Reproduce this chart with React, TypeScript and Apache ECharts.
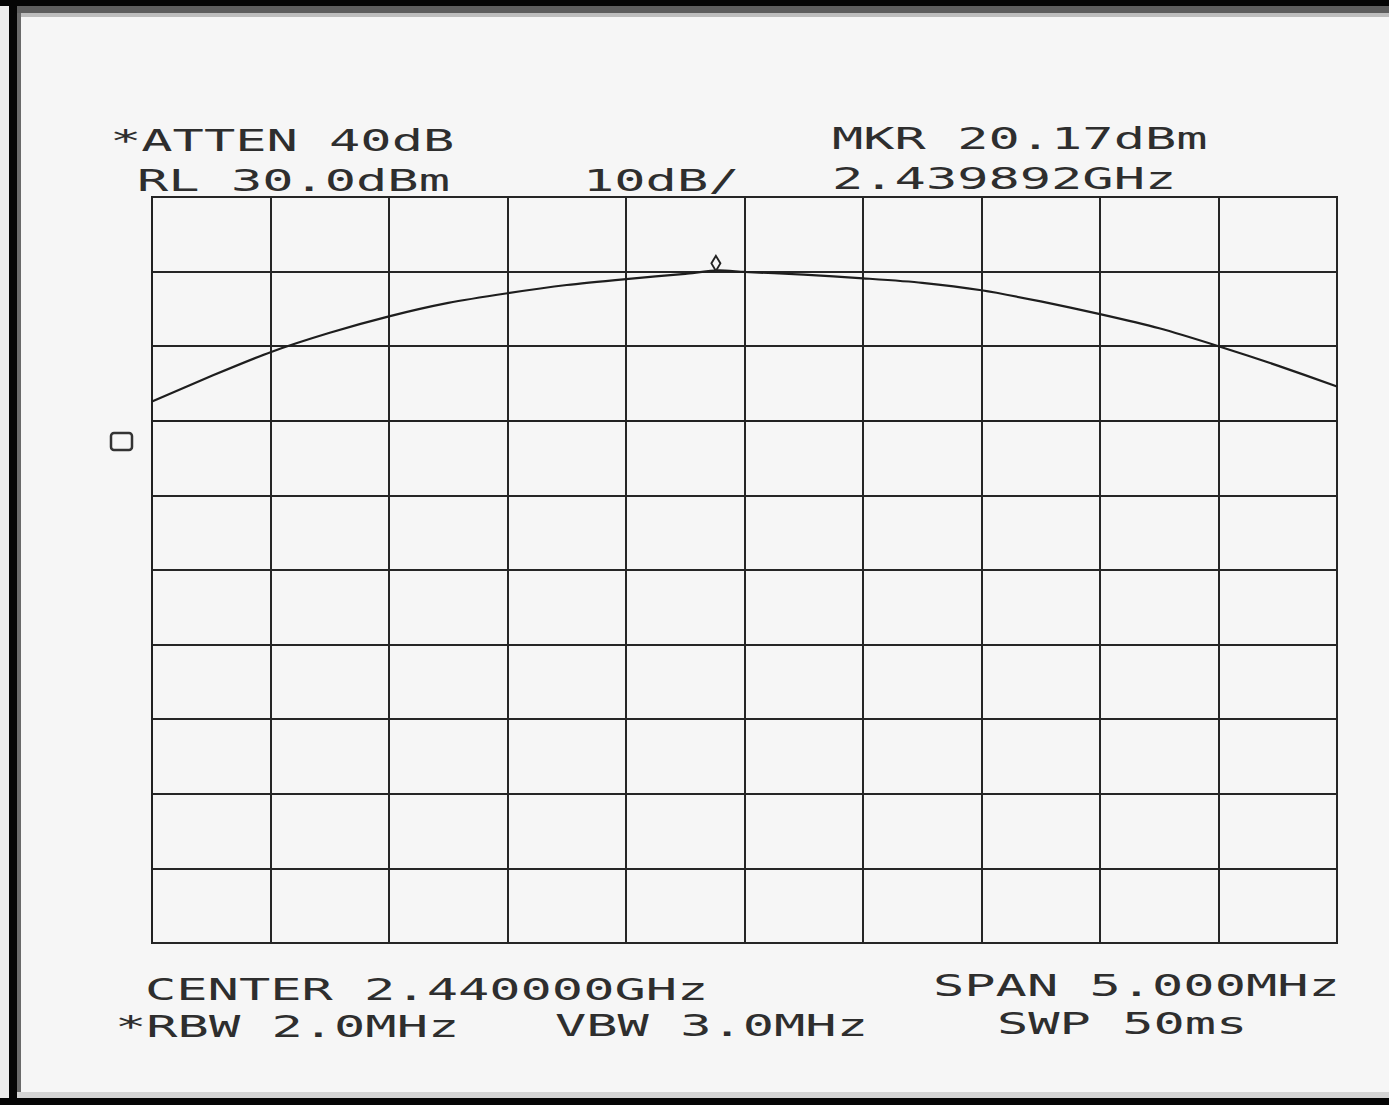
import React, { useEffect, useRef } from "react";
import * as echarts from "echarts";

// Trace data (frequency in MHz, level in dBm)
const freqMHz = [
  2437.5, 2437.75, 2438.0, 2438.25, 2438.5, 2438.75, 2439.0, 2439.25, 2439.5, 2439.75,
  2439.892, 2440.0, 2440.25, 2440.5, 2440.75, 2441.0, 2441.25, 2441.5, 2441.75, 2442.0,
  2442.25, 2442.5,
];
const levelDbm = [
  2.6, 6.0, 9.2, 11.8, 14.0, 15.8, 17.1, 18.2, 19.0, 19.7,
  20.17, 19.95, 19.6, 19.1, 18.5, 17.5, 16.0, 14.3, 12.4, 10.0,
  7.4, 4.6,
];

// Marker
const markerFreq = 2439.892;
const markerLevel = 20.17;

// Axis settings
const refLevel = 30;
const bottomLevel = -70;
const dbPerDiv = 10;
const startFreq = 2437.5;
const stopFreq = 2442.5;
const freqPerDiv = 0.5;

// Annotation texts
const annotations: { text: string; x: number; y: number }[] = [
  { text: "*ATTEN 40dB", x: 110, y: 141 },
  { text: "RL 30.0dBm", x: 137, y: 181 },
  { text: "10dB/", x: 583, y: 181 },
  { text: "MKR 20.17dBm", x: 832, y: 138.5 },
  { text: "2.439892GHz", x: 832, y: 179 },
  { text: "CENTER 2.440000GHz", x: 145, y: 989.5 },
  { text: "SPAN 5.000MHz", x: 933, y: 986 },
  { text: "*RBW 2.0MHz", x: 115, y: 1026.5 },
  { text: "VBW 3.0MHz", x: 555, y: 1026 },
  { text: "SWP 50ms", x: 997, y: 1023.5 },
];

const FONT_SIZE = 30;
const CHAR_ADV = 31.3;
const SCALE_X = CHAR_ADV / (0.602 * FONT_SIZE);
const INK = "#2e2e2e";

export default function App() {
  const ref = useRef<HTMLDivElement>(null);
  useEffect(() => {
    document.body.style.margin = "0";
    const chart = echarts.init(ref.current!, undefined, { renderer: "svg" });
    const data = freqMHz.map((f, i) => [f, levelDbm[i]]);
    const graphics: any[] = [
      // paper
      { type: "rect", z: -10, shape: { x: 0, y: 0, width: 1389, height: 1105 }, style: { fill: "#f6f6f6" } },
      // frame: top
      { type: "rect", z: 10, shape: { x: 0, y: 0, width: 1389, height: 6 }, style: { fill: "#050505" } },
      { type: "rect", z: 10, shape: { x: 9, y: 6, width: 1380, height: 7 }, style: { fill: "#5e5e5e" } },
      { type: "rect", z: 10, shape: { x: 9, y: 13, width: 1380, height: 4 }, style: { fill: "#bdbdbd" } },
      // frame: left
      { type: "rect", z: 10, shape: { x: 0, y: 0, width: 9, height: 1105 }, style: { fill: "#ececec" } },
      { type: "rect", z: 11, shape: { x: 0, y: 0, width: 9, height: 6 }, style: { fill: "#050505" } },
      { type: "rect", z: 10, shape: { x: 9, y: 0, width: 8, height: 1105 }, style: { fill: "#050505" } },
      { type: "rect", z: 10, shape: { x: 17, y: 13, width: 4, height: 1085 }, style: { fill: "#6a6a6a" } },
      // frame: bottom
      { type: "rect", z: 10, shape: { x: 17, y: 1092, width: 1372, height: 6 }, style: { fill: "#d4d4d4" } },
      { type: "rect", z: 10, shape: { x: 0, y: 1098, width: 1389, height: 7 }, style: { fill: "#050505" } },
      // "D" reference indicator box
      {
        type: "rect",
        z: 5,
        shape: { x: 111, y: 433, width: 21, height: 17, r: 3 },
        style: { fill: "none", stroke: "#333", lineWidth: 2.5 },
      },
      ...annotations.map((a) => ({
        type: "text",
        z: 5,
        x: a.x,
        y: a.y,
        scaleX: SCALE_X,
        scaleY: 1,
        style: {
          text: a.text,
          fill: INK,
          font: `${FONT_SIZE}px "DejaVu Sans Mono", monospace`,
          textAlign: "left",
          textVerticalAlign: "middle",
        },
      })),
    ];
    chart.setOption({
      animation: false,
      backgroundColor: "transparent",
      graphic: graphics,
      grid: {
        left: 152,
        right: 52,
        top: 197,
        bottom: 162,
        show: true,
        borderColor: "#222",
        borderWidth: 2,
        backgroundColor: "transparent",
      },
      xAxis: {
        type: "value",
        min: startFreq,
        max: stopFreq,
        interval: freqPerDiv,
        axisLabel: { show: false },
        axisTick: { show: false },
        axisLine: { show: true, lineStyle: { color: "#222", width: 2 } },
        splitLine: { show: true, lineStyle: { color: "#262626", width: 2 } },
      },
      yAxis: {
        type: "value",
        min: bottomLevel,
        max: refLevel,
        interval: dbPerDiv,
        axisLabel: { show: false },
        axisTick: { show: false },
        axisLine: { show: true, lineStyle: { color: "#222", width: 2 } },
        splitLine: { show: true, lineStyle: { color: "#262626", width: 2 } },
      },
      series: [
        {
          type: "line",
          data,
          smooth: 0.25,
          showSymbol: false,
          lineStyle: { color: "#1e1e1e", width: 2.2 },
          markPoint: {
            symbol: "diamond",
            symbolSize: [9, 15],
            symbolOffset: [-3, -7],
            label: { show: false },
            itemStyle: { color: "rgba(0,0,0,0)", borderColor: "#222", borderWidth: 2 },
            data: [{ coord: [markerFreq, markerLevel] }],
          },
        },
      ],
    });
    return () => chart.dispose();
  }, []);
  return <div ref={ref} style={{ width: 1389, height: 1105 }} />;
}
